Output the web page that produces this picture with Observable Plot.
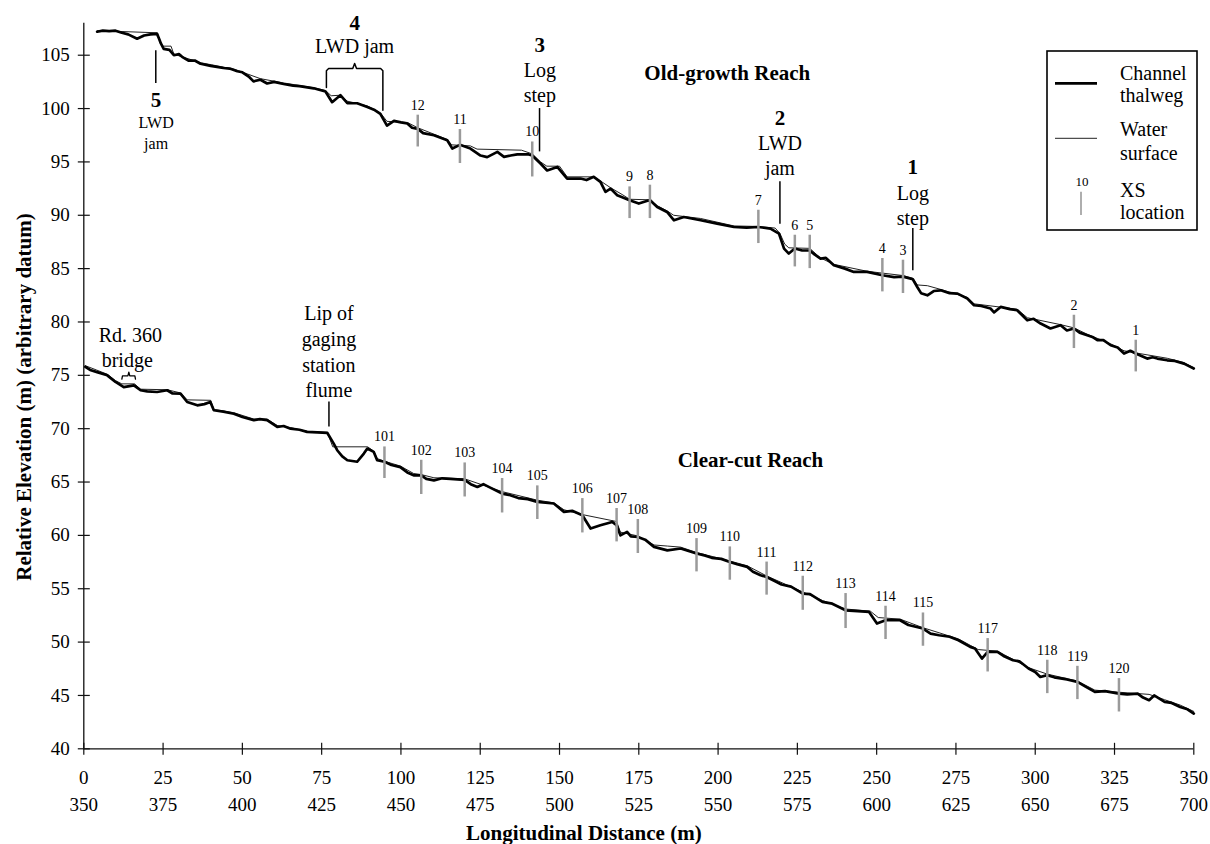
<!DOCTYPE html>
<html><head><meta charset="utf-8">
<script src="https://cdn.jsdelivr.net/npm/d3@7"></script>
<script src="https://cdn.jsdelivr.net/npm/@observablehq/plot@0.6"></script>
<style>body{margin:0;background:#fff;} #chart{position:relative;width:1210px;height:844px;} #chart text{font-family:'Liberation Serif' !important;}</style>
</head><body><div id="chart"></div>
<script>
// Longitudinal profiles: [distance (m), elevation (m)]
const oldGrowthThalweg = [[4.2,107.2],[6,107.3],[8,107.25],[10,107.3],[12,107.1],[14,106.95],[16.8,106.55],[19,106.85],[21,106.95],[23.1,107.0],[23.8,106.5],[24.3,106.1],[25.2,105.6],[27,105.5],[28.4,105.0],[30,105.1],[31,104.85],[33,104.5],[35,104.5],[36.8,104.2],[40,104.0],[44,103.8],[46,103.75],[48.4,103.5],[50,103.4],[52,103.0],[53.5,102.55],[55.7,102.7],[57.8,102.35],[60,102.5],[63,102.3],[66,102.15],[68,102.1],[72.5,101.9],[76.2,101.6],[78.3,100.6],[80.9,101.25],[83.1,100.5],[86.2,100.5],[89.4,100.15],[91.5,99.9],[93.5,99.5],[95.6,98.4],[97.8,98.85],[100,98.7],[102,98.6],[103.5,98.2],[105.3,98.1],[107,97.7],[110.4,97.5],[114.6,97.03],[116.2,96.25],[118.6,96.6],[121.9,96.25],[125.1,95.6],[127.2,95.45],[130.4,95.94],[132.5,95.47],[134.6,95.6],[136.7,95.7],[140.3,95.7],[141.4,95.6],[144,94.85],[146.1,94.2],[149.3,94.53],[152.4,93.44],[156.6,93.44],[158.5,93.3],[160.8,93.6],[162.9,93.13],[164.5,92.19],[166.1,92.5],[168.2,91.88],[172.1,91.4],[175,91.1],[178.5,91.43],[180.8,90.78],[183.9,90.31],[186.1,89.53],[189.2,89.84],[194.5,89.53],[199.7,89.22],[205,88.9],[209,88.85],[212.7,88.9],[216.5,88.75],[219.2,88.28],[220.8,86.88],[222.3,86.41],[224.2,86.88],[226.5,86.7],[228.9,86.7],[230.5,86.3],[232.3,85.94],[234,86.0],[236.5,85.31],[240,85.0],[242.8,84.69],[247,84.69],[251.8,84.38],[255.5,84.2],[258.3,84.25],[261.4,84.0],[262.8,83.28],[264,82.7],[266,82.5],[268,82.9],[270.2,82.97],[273,82.7],[275.5,82.66],[278.6,82.2],[280.7,81.57],[283,81.5],[285.9,81.26],[287,80.9],[289.1,81.41],[292,81.2],[294.3,81.1],[297.5,80.16],[299.5,80.3],[301.7,79.85],[304.8,79.39],[308,79.7],[310,79.2],[312.2,79.39],[314,79.0],[316.4,78.76],[318,78.6],[319.6,78.29],[321.5,78.3],[323.8,77.82],[326,77.6],[328,77.04],[330,77.3],[331.7,77.04],[335.3,76.57],[337,76.7],[338.5,76.57],[341.6,76.41],[344,76.35],[346.9,76.1],[350,75.64]];
const oldGrowthWater = [[4.2,107.3],[23.2,107.1],[24,106.2],[25,105.85],[27.5,105.85],[28.4,105.1],[36.8,104.3],[47.3,103.7],[55.7,102.8],[63,102.4],[72.5,101.95],[76.2,101.7],[78,101.2],[80.9,101.25],[83,100.7],[89.4,100.25],[93.5,99.6],[95.6,98.8],[102,98.7],[105.3,98.2],[110.4,97.6],[114.6,97.1],[116,96.6],[121.9,96.5],[124,96.2],[138,96.1],[141.4,95.75],[144,95.0],[146,94.6],[150,94.6],[152.4,93.6],[160.8,93.6],[163,93.2],[166,92.6],[170,91.9],[172.1,91.5],[178.5,91.45],[180.8,90.9],[184,90.4],[186,90.0],[194.5,89.7],[205,89.0],[212.7,88.95],[218,88.8],[219.5,88.3],[221,87.3],[222.3,86.95],[228.9,86.9],[232.3,86.0],[236.5,85.4],[247,84.75],[258.3,84.35],[261.4,84.1],[262.8,83.47],[266,83.4],[270.2,83.05],[278.6,82.3],[280.7,81.7],[294.3,81.2],[297.5,80.4],[308,79.75],[312.2,79.45],[316.4,78.85],[323.8,77.95],[328,77.3],[331.7,77.1],[341.6,76.6],[346.9,76.2],[350,75.7]];
const clearCutThalweg = [[0.5,75.8],[2,75.5],[4.2,75.3],[7.4,75.0],[10,74.38],[12.6,73.9],[15.8,74.06],[17.9,73.6],[20,73.5],[23.1,73.44],[26.3,73.6],[28,73.3],[30.5,73.28],[32.6,72.5],[35.8,72.19],[38,72.3],[39.9,72.5],[41,71.73],[44,71.6],[47.3,71.4],[50,71.1],[53.6,70.8],[55.5,70.9],[57.8,70.8],[61,70.16],[63,70.25],[65.2,70.0],[68,69.9],[70.4,69.7],[76.8,69.6],[78.8,68.6],[79.9,67.98],[81.5,67.4],[83.1,67.04],[86.2,66.9],[88.3,67.67],[89.4,68.14],[91.4,67.83],[92.5,67.04],[94.8,66.9],[97,66.6],[99.8,66.4],[102,65.9],[104,65.63],[106.4,65.63],[108,65.3],[110.4,65.16],[113,65.35],[115.6,65.3],[120.1,65.2],[122,64.8],[124.1,64.54],[126,64.8],[128,64.5],[131.9,63.92],[134,63.8],[137,63.5],[140,63.4],[143,63.14],[148.2,62.99],[151.4,62.2],[154,62.3],[157.2,61.89],[159.8,60.64],[162.9,60.95],[166.6,61.26],[168,60.95],[169.2,60.0],[171.3,60.33],[172.5,59.9],[174.7,59.85],[177,59.6],[179.8,58.92],[184,58.6],[188.2,58.77],[193.2,58.3],[196,58.1],[198,57.9],[201,57.8],[203.7,57.5],[206,57.3],[209.2,57.05],[211,56.6],[213.4,56.27],[215.3,56.1],[218,55.7],[220,55.4],[223,55.2],[226.7,54.55],[229,54.5],[232.9,53.77],[236,53.6],[240.2,52.98],[244,52.9],[247.6,52.83],[250.1,51.74],[252.8,52.05],[257.4,52.05],[260,51.6],[264.6,51.27],[267,50.8],[269.7,50.64],[273,50.5],[275.8,50.17],[279.5,49.55],[281,49.4],[283.2,48.46],[285,49.08],[288.1,49.08],[290,48.7],[293,48.3],[295,48.2],[297.9,47.52],[300,47.2],[301.6,46.73],[303.8,46.9],[306,46.7],[308,46.6],[310,46.5],[313.3,46.27],[316,45.8],[318.8,45.33],[322,45.4],[326.4,45.17],[329,45.1],[332.3,45.17],[334,44.8],[335.9,44.55],[337.5,45.0],[340.8,44.39],[343,44.3],[345.7,43.92],[348,43.7],[350,43.3]];
const clearCutWater = [[0.5,75.9],[4,75.5],[7.4,75.1],[10,74.5],[12,74.2],[16,74.2],[17.9,73.7],[26.3,73.65],[30.5,73.35],[32.6,72.7],[40,72.66],[41,71.8],[47.3,71.5],[53.6,70.9],[57.8,70.9],[61,70.3],[65.2,70.1],[70.4,69.75],[76.8,69.65],[78.5,68.3],[89.5,68.3],[91.4,67.9],[92.5,67.2],[94.8,66.95],[99.8,66.5],[104,65.8],[106.4,65.7],[110.4,65.4],[120.1,65.3],[124,64.9],[131.9,64.1],[143,63.3],[148.2,63.05],[151.4,62.4],[157.2,61.95],[168,61.3],[169.2,60.3],[174.7,59.95],[179.8,59.1],[184,59.0],[188.2,58.9],[193.2,58.4],[203.7,57.6],[209.2,57.15],[215.3,56.2],[226.7,54.7],[232.9,53.9],[240.2,53.1],[248,52.9],[250.5,52.3],[257.4,52.15],[264.6,51.35],[275.8,50.3],[279.5,49.7],[282,49.3],[288.1,49.15],[297.9,47.6],[303.8,47.0],[313.3,46.35],[318.8,45.5],[326.4,45.3],[335.9,45.1],[340.8,44.6],[345.7,44.1],[350,43.5]];

// Cross-section (XS) locations
const xsLabels = ["12","11","10","9","8","7","6","5","4","3","2","1","101","102","103","104","105","106","107","108","109","110","111","112","113","114","115","117","118","119","120"];
const xsDistance = [105.3,118.6,141.4,172.1,178.5,212.7,224.2,228.9,251.8,258.3,312.2,331.7,94.8,106.4,120.1,131.9,143,157.2,168,174.7,193.2,203.7,215.3,226.7,240.2,252.8,264.6,285,303.8,313.3,326.4];
const xsTop = [99.38,98.04,96.87,92.66,92.82,90.47,88.13,88.13,85.95,85.79,80.63,78.29,68.29,67.04,66.79,65.33,64.64,63.45,62.52,61.49,59.7,58.92,57.5,56.17,54.55,53.36,52.73,50.33,48.3,47.73,46.58];
const xsBottom = [96.4,94.85,93.59,89.69,89.69,87.35,85.16,85.0,82.82,82.67,77.51,75.32,65.33,63.83,63.6,62.1,61.49,60.23,59.39,58.3,56.58,55.8,54.4,52.98,51.27,50.24,49.61,47.2,45.17,44.61,43.45];

// Axis ticks
const yTicks = [40,45,50,55,60,65,70,75,80,85,90,95,100,105];
const xTicks = [0,25,50,75,100,125,150,175,200,225,250,275,300,325,350];
const xTickLabels2 = [350,375,400,425,450,475,500,525,550,575,600,625,650,675,700];

// Annotations
const leaderX = [22.7,143.7,219.5,261.4,77.3];
const leaderTop = [105.42,100.0,93.13,88.76,72.5];
const leaderBottom = [102.35,95.94,89.16,84.79,70.16];
const braceJam = [[76.5,101.97],[76.5,103.55],[77.2,103.75],[84.8,103.75],[85.4,104.22],[86,103.75],[93.6,103.75],[94.3,103.55],[94.3,99.85]];
const braceBridge = [[12.0,74.65],[12.2,74.95],[13.9,74.95],[14.2,75.3],[14.5,74.95],[16.1,74.95],[16.3,74.65]];
const boldText = ["4","5","3","2","1"];
const boldX = [85.4,22.8,143.8,219.5,261.4];
const boldY = [107.97,100.78,105.94,99.07,94.48];
const reachText = ["Old-growth Reach","Clear-cut Reach"];
const reachX = [202.9,210.2];
const reachY = [103.28,67.04];
const noteText = ["LWD jam","Log","step","LWD","jam","Log","step","Rd. 360","bridge","Lip of","gaging","station","flume"];
const noteX = [85.4,143.8,143.8,219.5,219.5,261.4,261.4,14.7,13.7,77.3,77.3,77.3,77.3];
const noteY = [105.78,103.53,101.25,96.72,94.38,92.04,89.7,78.76,76.41,80.79,78.35,75.94,73.6];
const smallNoteText = ["LWD","jam"];
const smallNoteX = [22.8,22.8];
const smallNoteY = [98.66,96.72];

const xs = xsLabels.map((label, i) => ({label, x: xsDistance[i], y1: xsTop[i], y2: xsBottom[i]}));
const leaders = leaderX.map((x, i) => ({x, y1: leaderTop[i], y2: leaderBottom[i]}));
const bolds = boldText.map((t, i) => ({t, x: boldX[i], y: boldY[i]}));
const reaches = reachText.map((t, i) => ({t, x: reachX[i], y: reachY[i]}));
const notes = noteText.map((t, i) => ({t, x: noteX[i], y: noteY[i]}));
const smallNotes = smallNoteText.map((t, i) => ({t, x: smallNoteX[i], y: smallNoteY[i]}));

const F = "Liberation Serif";
const X = d => d[0], Y = d => d[1];
// cross-shaped tick glyphs (extend on both sides of the axis)
const hTick = {draw(ctx, size) { const r = Math.sqrt(size / Math.PI); ctx.moveTo(-r, 0); ctx.lineTo(r, 0); }};
const vTick = {draw(ctx, size) { const r = Math.sqrt(size / Math.PI); ctx.moveTo(0, -r); ctx.lineTo(0, r); }};

const plot = Plot.plot({
  width: 1210, height: 844,
  marginLeft: 83.3, marginRight: 16.7, marginTop: 22.7, marginBottom: 95.7,
  style: {fontFamily: F, fontSize: "20px", background: "#fff", color: "#000"},
  x: {domain: [0, 350], axis: null},
  y: {domain: [40, 108], axis: null},
  marks: [
    Plot.ruleX([0], {stroke: "#111", strokeWidth: 1.3}),
    Plot.ruleY([40], {stroke: "#111", strokeWidth: 1.3}),
    Plot.dot(yTicks, {x: 0, y: d => d, symbol: hTick, r: 6, stroke: "#111", strokeWidth: 1.2, fill: "none"}),
    Plot.dot(xTicks, {x: d => d, y: 40, symbol: vTick, r: 6, stroke: "#111", strokeWidth: 1.2, fill: "none"}),
    Plot.text(yTicks, {x: 0, y: d => d, text: d => String(d), textAnchor: "end", dx: -14, fontSize: 19, fontFamily: F}),
    Plot.text(xTicks, {x: d => d, y: 40, text: d => String(d), dy: 28.7, fontSize: 19, fontFamily: F}),
    Plot.text(xTicks, {x: d => d, y: 40, text: (d, i) => String(xTickLabels2[i]), dy: 56, fontSize: 19, fontFamily: F}),
    Plot.text(["Longitudinal Distance (m)"], {frameAnchor: "bottom", lineAnchor: "middle", textAnchor: "middle", dx: -55, dy: 84, fontWeight: "bold", fontSize: 21, fontFamily: F}),
    Plot.text(["Relative Elevation (m) (arbitrary datum)"], {frameAnchor: "left", textAnchor: "middle", lineAnchor: "middle", rotate: -90, dx: -60, dy: 11, fontWeight: "bold", fontSize: 21, fontFamily: F}),
    Plot.line(oldGrowthWater, {x: X, y: Y, stroke: "#222", strokeWidth: 1}),
    Plot.line(clearCutWater, {x: X, y: Y, stroke: "#222", strokeWidth: 1}),
    Plot.line(oldGrowthThalweg, {x: X, y: Y, stroke: "#000", strokeWidth: 2.7}),
    Plot.line(clearCutThalweg, {x: X, y: Y, stroke: "#000", strokeWidth: 2.7}),
    Plot.ruleX(xs, {x: "x", y1: "y1", y2: "y2", stroke: "#9a9a9a", strokeWidth: 2.5}),
    Plot.text(xs, {x: "x", y: "y1", text: "label", dy: -10, fontSize: 14, fontFamily: F}),
    Plot.ruleX(leaders, {x: "x", y1: "y1", y2: "y2", stroke: "#000", strokeWidth: 1.5}),
    Plot.line(braceJam, {x: X, y: Y, stroke: "#000", strokeWidth: 1.5}),
    Plot.line(braceBridge, {x: X, y: Y, stroke: "#000", strokeWidth: 1.3}),
    Plot.text(bolds, {x: "x", y: "y", text: "t", fontWeight: "bold", fontSize: 21, fontFamily: F}),
    Plot.text(reaches, {x: "x", y: "y", text: "t", fontWeight: "bold", fontSize: 21, fontFamily: F}),
    Plot.text(notes, {x: "x", y: "y", text: "t", fontSize: 20, fontFamily: F}),
    Plot.text(smallNotes, {x: "x", y: "y", text: "t", fontSize: 16, fontFamily: F})
  ]
});
document.getElementById("chart").appendChild(plot);

// Legend (drawn in pixel space on the same SVG)
const svg = d3.select(plot);
const g = svg.append("g").attr("font-family", F).attr("font-size", 20).attr("text-anchor", "start");
g.append("rect").attr("x", 1047).attr("y", 51).attr("width", 150).attr("height", 179)
  .attr("fill", "#fff").attr("stroke", "#000").attr("stroke-width", 1.6);
g.append("line").attr("x1", 1055).attr("x2", 1097).attr("y1", 83.3).attr("y2", 83.3).attr("stroke", "#000").attr("stroke-width", 2.7);
g.append("line").attr("x1", 1055).attr("x2", 1097).attr("y1", 138.3).attr("y2", 138.3).attr("stroke", "#222").attr("stroke-width", 1);
g.append("line").attr("x1", 1081).attr("x2", 1081).attr("y1", 191.7).attr("y2", 215).attr("stroke", "#9a9a9a").attr("stroke-width", 1.6);
g.append("text").attr("x", 1082).attr("y", 181.7).attr("dy", "0.32em").attr("text-anchor", "middle").attr("font-size", 13).text("10");
const legendLines = [["Channel", 73.3], ["thalweg", 96], ["Water", 130], ["surface", 153.3], ["XS", 191], ["location", 212.7]];
legendLines.forEach(([t, y]) => g.append("text").attr("x", 1120).attr("y", y).attr("dy", "0.32em").text(t));
</script>
</body></html>
